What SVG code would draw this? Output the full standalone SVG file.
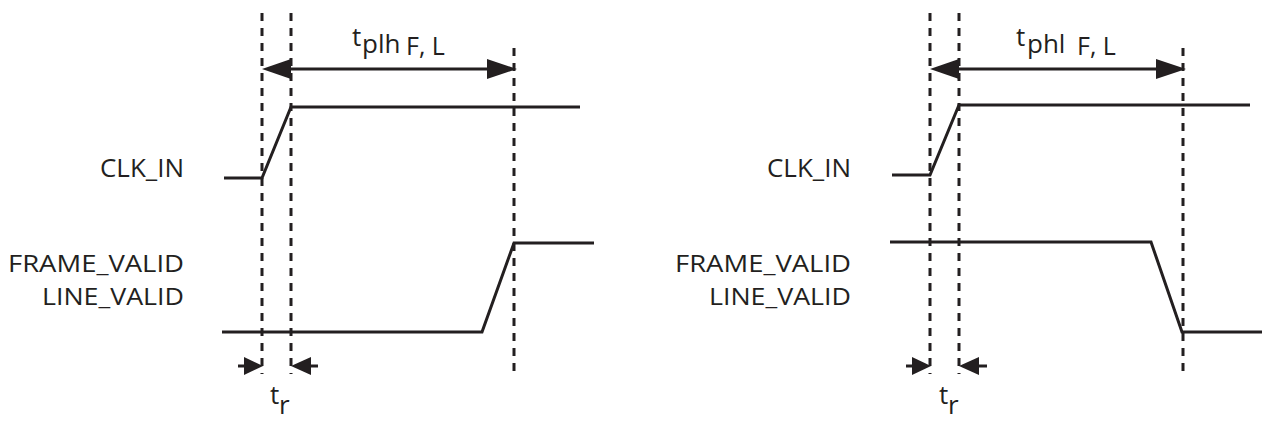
<svg xmlns="http://www.w3.org/2000/svg" width="1265" height="422" viewBox="0 0 1265 422">
<style>
.lbl{font-family:"Open Sans","Noto Sans","Liberation Sans",sans-serif;font-size:26px;fill:#231f20}
.sig{font-family:"Open Sans","Noto Sans","Liberation Sans",sans-serif;font-size:24px;fill:#231f20}
.sub{font-family:"Open Sans","Noto Sans","Liberation Sans",sans-serif;font-size:25px;fill:#231f20}
.dash{stroke:#231f20;stroke-width:3;stroke-dasharray:8 7;fill:none}
.wave{stroke:#231f20;stroke-width:3;fill:none;stroke-linejoin:miter}
.dim{stroke:#231f20;stroke-width:3;fill:none}
.head{fill:#231f20;stroke:none}
</style>
<rect width="1265" height="422" fill="#ffffff"/>
<g id="labels-left">
<text class="lbl" x="100" y="177" textLength="84" lengthAdjust="spacingAndGlyphs">CLK_IN</text>
<text class="sig" x="8" y="272" textLength="176" lengthAdjust="spacingAndGlyphs">FRAME_VALID</text>
<text class="sig" x="42" y="305" textLength="142" lengthAdjust="spacingAndGlyphs">LINE_VALID</text>
</g>
<g id="labels-right">
<text class="lbl" x="767" y="177" textLength="84" lengthAdjust="spacingAndGlyphs">CLK_IN</text>
<text class="sig" x="675" y="272" textLength="176" lengthAdjust="spacingAndGlyphs">FRAME_VALID</text>
<text class="sig" x="709" y="305" textLength="142" lengthAdjust="spacingAndGlyphs">LINE_VALID</text>
</g>
<g id="guides">
<line class="dash" x1="262" y1="13" x2="262" y2="374"/>
<line class="dash" x1="291" y1="13" x2="291" y2="374"/>
<line class="dash" x1="514" y1="48" x2="514" y2="374"/>
<line class="dash" x1="930" y1="13" x2="930" y2="374"/>
<line class="dash" x1="959" y1="13" x2="959" y2="374"/>
<line class="dash" x1="1183" y1="48" x2="1183" y2="374"/>
</g>
<g id="waves">
<polyline class="wave" points="224,178 262,178 291,107 580,107"/>
<polyline class="wave" points="222,332 482,332 514,243 594,243"/>
<polyline class="wave" points="892,175 930,175 959,105 1250,105"/>
<polyline class="wave" points="890,242 1151,242 1182,332 1262,332"/>
</g>
<g id="connectors">
<line class="dim" x1="285" y1="69" x2="492" y2="69"/>
<polygon class="head" points="262,69 291,59 291,79"/>
<polygon class="head" points="517,69 487,59 487,79"/>
<line class="dim" x1="952" y1="69" x2="1161" y2="69"/>
<polygon class="head" points="930,69 959,59 959,79"/>
<polygon class="head" points="1186,69 1156,59 1156,79"/>
<line class="dim" x1="238" y1="366" x2="250" y2="366"/>
<polygon class="head" points="263,366 244,357 244,375"/>
<line class="dim" x1="305" y1="366" x2="318" y2="366"/>
<polygon class="head" points="291,366 311,357 311,375"/>
<line class="dim" x1="906" y1="366" x2="918" y2="366"/>
<polygon class="head" points="931,366 912,357 912,375"/>
<line class="dim" x1="973" y1="366" x2="987" y2="366"/>
<polygon class="head" points="959,366 979,357 979,375"/>
</g>
<g id="dim-labels">
<text class="lbl" x="352" y="46">t</text>
<text class="lbl" x="362" y="53">plh</text>
<text class="sub" x="406" y="55">F, L</text>
<text class="lbl" x="1016" y="46">t</text>
<text class="lbl" x="1027" y="53">phl</text>
<text class="sub" x="1077" y="55">F, L</text>
<text class="lbl" x="270" y="404">t</text>
<text class="lbl" x="279" y="414">r</text>
<text class="lbl" x="939" y="404">t</text>
<text class="lbl" x="948" y="414">r</text>
</g>
</svg>
